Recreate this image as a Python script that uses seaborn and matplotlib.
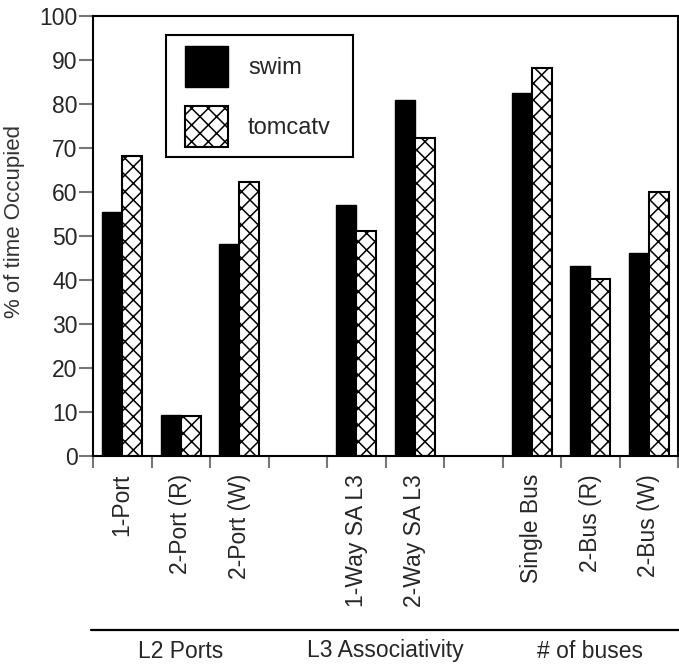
import numpy as np
import pandas as pd
import matplotlib
matplotlib.use("Agg")
import matplotlib.pyplot as plt
from matplotlib.patches import Patch, Rectangle
from matplotlib.lines import Line2D
import seaborn as sns

# slot labels (blank slots separate the groups)
configs = ["1-Port", "2-Port (R)", "2-Port (W)", " ",
           "1-Way SA L3", "2-Way SA L3", "  ",
           "Single Bus", "2-Bus (R)", "2-Bus (W)"]
swim = [55.5, 9.4, 48.2, np.nan, 57.0, 81.0, np.nan, 82.4, 43.2, 46.1]
tomcatv = [68.2, 9.0, 62.3, np.nan, 51.2, 72.2, np.nan, 88.1, 40.2, 59.9]
groups = ["L2 Ports", "L3 Associativity", "# of buses"]
group_pos = [1, 4.5, 8]

df = pd.DataFrame({"config": configs * 2,
                   "value": swim + tomcatv,
                   "bench": ["swim"] * len(configs) + ["tomcatv"] * len(configs)})

sns.set_style("white")
plt.rcParams["font.family"] = ["Liberation Sans", "DejaVu Sans"]
plt.rcParams["hatch.linewidth"] = 1.1

W, H = 679, 669
fig = plt.figure(figsize=(W / 100, H / 100), dpi=100)
ax = fig.add_axes([93 / W, 1 - 456 / H, 585 / W, 440 / H])

sns.barplot(data=df, x="config", y="value", hue="bench", order=configs,
            hue_order=["swim", "tomcatv"], palette=["black", "white"],
            width=0.68, saturation=1, ax=ax, legend=False)
for bar in ax.containers[0]:
    bar.set_edgecolor("black")
    bar.set_linewidth(1.0)
for bar in ax.containers[1]:
    bar.set_edgecolor("black")
    bar.set_linewidth(1.5)
    bar.set_hatch("xx")

ax.set_xlim(-0.5, len(configs) - 0.5)
ax.set_ylim(0, 100)
ax.set_yticks(range(0, 101, 10))
ax.set_xticks(np.arange(-0.5, len(configs), 1))
ax.set_xticklabels([])
ax.set_xticks(range(len(configs)), minor=True)
ax.set_xticklabels([c.strip() for c in configs], minor=True, rotation=90,
                   fontsize=16.5, va="top")
ax.tick_params(axis="x", which="major", length=8.6, width=1.5, color="#777777",
               direction="out", bottom=True)
ax.tick_params(axis="x", which="minor", length=0, pad=13, bottom=True)
ax.tick_params(axis="y", length=10, width=1.5, color="#777777", direction="out",
               left=True, labelsize=16.5, pad=1)
ax.set_xlabel("")
ax.set_ylabel("")
for s in ax.spines.values():
    s.set_color("black")
    s.set_linewidth(1.5)

fig.text(15 / W, 1 - 221 / H, "% of time Occupied", rotation=90, ha="center",
         va="center", fontsize=16, color="#333333")

# legend: frame drawn separately so the padding can match
fig.add_artist(Rectangle((166 / W, 1 - 157 / H), 187 / W, 122 / H, fill=False,
                         edgecolor="black", linewidth=1.5,
                         transform=fig.transFigure))
handles = [Patch(facecolor="black", edgecolor="black", label="swim"),
           Patch(facecolor="white", edgecolor="black", hatch="xx", linewidth=1.5,
                 label="tomcatv")]
fig.legend(handles=handles, loc="upper left",
           bbox_to_anchor=(185 / W, 1 - 46 / H), fontsize=17,
           handlelength=1.82, handleheight=2.3, labelspacing=0.8,
           handletextpad=0.85, borderpad=0, borderaxespad=0, frameon=False)

# group line and labels below the tick labels
fig.add_artist(Line2D([91 / W, 1.0], [1 - 630 / H] * 2, color="black",
                      linewidth=1.6, transform=fig.transFigure))
for g, p in zip(groups, group_pos):
    x_fig = fig.transFigure.inverted().transform(ax.transData.transform((p, 0)))[0]
    fig.text(x_fig, 1 - 651 / H, g, ha="center", va="center", fontsize=16.5)

fig.savefig("out.png", dpi=100)
